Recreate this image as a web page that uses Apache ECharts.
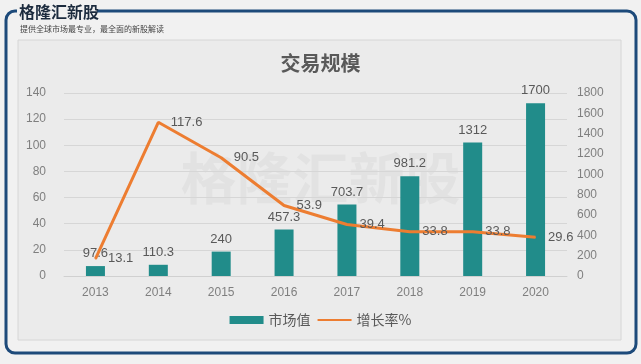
<!DOCTYPE html>
<html><head><meta charset="utf-8">
<script src="https://cdn.jsdelivr.net/npm/echarts@6/dist/echarts.min.js"></script>
<style>html,body{margin:0;padding:0;background:#f1f1f1}#c{width:641px;height:364px}</style>
</head><body><div id="c"></div>
<script>
const categories = ['2013','2014','2015','2016','2017','2018','2019','2020'];
const marketValue = [97.6, 110.3, 240, 457.3, 703.7, 981.2, 1312, 1700];
const growthRate = [13.1, 117.6, 90.5, 53.9, 39.4, 33.8, 33.8, 29.6];
const leftTicks = [0, 140, 20];
const rightTicks = [0, 1800, 200];

const chart = echarts.init(document.getElementById('c'));
const F = '"Liberation Sans", "Noto Sans", sans-serif';
const CJK = '"Noto Sans CJK SC", sans-serif';
chart.setOption({
  backgroundColor: '#f1f1f1',
  animation: false,
  graphic: [
    {type:'rect', z:-10, shape:{x:6,y:11,width:630,height:342,r:9}, style:{fill:'#f1f1f1', stroke:'#1d4a7a', lineWidth:3}},
    {type:'rect', z:-9, shape:{x:18,y:40,width:603,height:300}, style:{fill:'#ebebeb', stroke:'#d6d6d6', lineWidth:1}},
    {type:'rect', z:-8, shape:{x:17,y:4,width:80,height:14}, style:{fill:'#f1f1f1'}},
    {type:'text', z:-7, left:19, top:4, style:{text:'格隆汇新股', font:'bold 16px "Noto Sans CJK SC", serif', fill:'#1c2b3e'}},
    {type:'text', z:-7, left:20, top:25, style:{text:'提供全球市场最专业，最全面的新股解读', font:'8px "Noto Sans CJK SC", sans-serif', fill:'#444'}},
    {type:'text', z:-5, left:'center', top:150, style:{text:'格隆汇新股', font:'bold 56px "Noto Sans CJK SC", serif', fill:'rgba(0,0,0,0.035)'}}
  ],
  title: {text:'交易规模', left:'center', top:48, textStyle:{fontFamily:CJK, fontSize:20, fontWeight:'bold', color:'#595959'}},
  legend: {
    bottom: 32, left:'center', itemGap: 6, itemWidth: 34, itemHeight: 8,
    textStyle:{fontFamily:CJK, fontSize:14, color:'#595959'},
    data:[{name:'市场值', icon:'rect'}, {name:'增长率%', itemStyle:{opacity:0}}]
  },
  grid: {left:64, right:74, top:93, bottom:88},
  xAxis: {
    type:'category', data:categories,
    axisLine:{lineStyle:{color:'#d0d0d0'}}, axisTick:{show:false},
    axisLabel:{fontFamily:F, fontSize:12, color:'#7f7f7f', margin:11}
  },
  yAxis: [
    {type:'value', min:leftTicks[0], max:leftTicks[1], interval:leftTicks[2],
     axisLabel:{fontFamily:F, fontSize:12, color:'#7f7f7f', margin:18},
     splitLine:{lineStyle:{color:'#d6d6d6'}}, axisLine:{show:false}},
    {type:'value', min:rightTicks[0], max:rightTicks[1], interval:rightTicks[2],
     axisLabel:{fontFamily:F, fontSize:12, color:'#7f7f7f', margin:10, formatter: v => String(v)},
     splitLine:{show:false}, axisLine:{show:false}}
  ],
  series: [
    {name:'市场值', type:'bar', yAxisIndex:1, data:marketValue, barWidth:19,
     itemStyle:{color:'#218c8a'},
     label:{show:true, position:'top', distance:6, fontFamily:F, fontSize:13, color:'#595959'}},
    {name:'增长率%', type:'line', yAxisIndex:0, data:growthRate, symbol:'circle', symbolSize:1, showSymbol:true,
     lineStyle:{color:'#ed7d31', width:3}, itemStyle:{color:'#ed7d31'},
     labelLayout:{hideOverlap:false},
     label:{show:true, position:'right', distance:12, offset:[0,-2], fontFamily:F, fontSize:13, color:'#595959'}}
  ]
});
</script></body></html>
